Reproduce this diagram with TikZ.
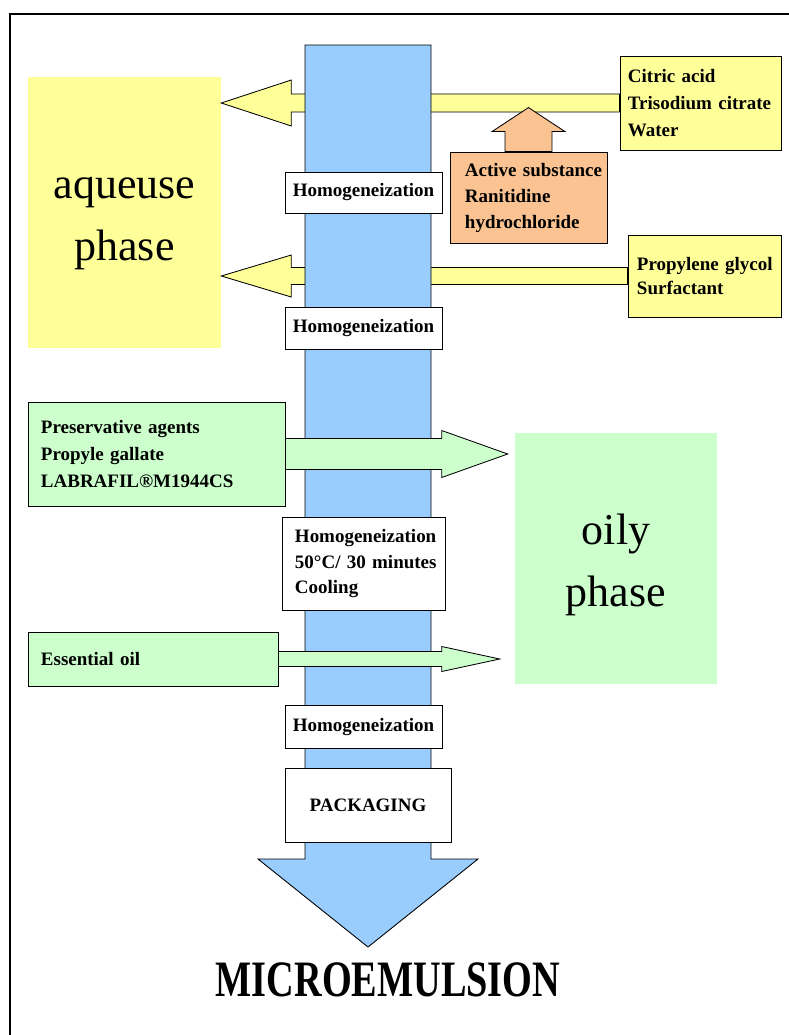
\documentclass[tikz,border=0pt]{standalone}
\usepackage{fontspec}
\setmainfont{Liberation Serif}
\usetikzlibrary{calc}
\hyphenpenalty=10000
\exhyphenpenalty=10000

\definecolor{aqyellow}{RGB}{255,255,153}
\definecolor{oilgreen}{RGB}{204,255,204}
\definecolor{colblue}{RGB}{153,204,255}
\definecolor{actorange}{RGB}{250,195,145}

% block arrows: style, tail, tip, shaft half width, head half width, head length
\newcommand{\hblockarrow}[6]{%
  \draw[#1] ($(#2)+(0,-#4)$) -- ($(#3)+(#6,-#4)$) -- ($(#3)+(#6,-#5)$) -- (#3)
    -- ($(#3)+(#6,#5)$) -- ($(#3)+(#6,#4)$) -- ($(#2)+(0,#4)$) -- cycle;
}
\newcommand{\vblockarrow}[6]{%
  \draw[#1] ($(#2)+(-#4,0)$) -- ($(#3)+(-#4,#6)$) -- ($(#3)+(-#5,#6)$) -- (#3)
    -- ($(#3)+(#5,#6)$) -- ($(#3)+(#4,#6)$) -- ($(#2)+(#4,0)$) -- cycle;
}
\newcommand{\phasestrut}{\rule{0pt}{31.4pt}}

\begin{document}
\begin{tikzpicture}[x=0.025cm, y=-0.025cm,
  phase/.style={inner sep=0, align=center, font=\fontsize{31.3}{44}\selectfont},
  listbox/.style={draw, line width=0.6pt, inner sep=0, align=left, font=\bfseries\fontsize{13.5}{19.2}\selectfont},
  stepbox/.style={draw, line width=0.6pt, fill=white, inner sep=0, minimum width=3.925cm, font=\bfseries\fontsize{13.5}{17.8}\selectfont},
  yarrow/.style={draw, line width=0.6pt, fill=aqyellow},
  garrow/.style={draw, line width=0.6pt, fill=oilgreen},
  oarrow/.style={draw, line width=0.6pt, fill=actorange},
  colarrow/.style={draw, line width=0.6pt, fill=colblue}]

  \useasboundingbox (0,0) rectangle (789,1035);

  % frame
  \draw[line width=1.4pt] (10,1035) -- (10,14) -- (789,14);

  % phases
  \node[phase, fill=aqyellow, minimum width=4.825cm, minimum height=6.775cm] (aq) at (124.5,212.5) {\phasestrut aqueuse\\phase};
  \node[phase, fill=oilgreen, minimum width=5.05cm, minimum height=6.275cm] (oil) at (616,558.5) {\phasestrut oily\\phase};

  % aqueous phase inputs
  \node[listbox, fill=aqyellow, minimum width=4.025cm, minimum height=2.35cm, text width=3.625cm] (cit)
    at (700.5,103) {Citric acid\\Trisodium~citrate\\Water};
  \node[listbox, fill=aqyellow, minimum width=3.825cm, minimum height=2.05cm, text width=3.375cm,
    font=\bfseries\fontsize{13.5}{16.4}\selectfont] (prop) at (704.5,276) {Propylene~glycol\\Surfactant};
  \coordinate (t1) at (aq.east |- cit.west);
  \coordinate (t2) at (aq.east |- prop.west);
  \hblockarrow{yarrow}{cit.west}{t1}{9}{23}{70}
  \hblockarrow{yarrow}{prop.west}{t2}{8.5}{21}{70}

  % main column
  \coordinate (ctop) at (368,45);
  \coordinate (ctip) at (368,947);
  \vblockarrow{colarrow}{ctop}{ctip}{63}{110}{-88}

  % active substance
  \node[listbox, fill=actorange, minimum width=3.925cm, minimum height=2.275cm, text width=3.175cm,
    font=\bfseries\fontsize{13.5}{18.5}\selectfont] (act) at (528.5,197.5)
    {Active~substance\\Ranitidine\\hydrochloride};
  \coordinate (t3) at ($(act.north)+(0,-44)$);
  \vblockarrow{oarrow}{act.north}{t3}{23.5}{36.5}{24}

  % oily phase inputs
  \node[listbox, fill=oilgreen, minimum width=6.425cm, minimum height=2.6cm, text width=5.775cm] (pres)
    at (156.5,454) {Preservative~agents\\Propyle~gallate\\LABRAFIL®M1944CS};
  \node[listbox, fill=oilgreen, minimum width=6.25cm, minimum height=1.35cm, text width=5.6cm] (ess)
    at (153,659) {Essential~oil};
  \coordinate (t4) at ($(oil.west |- pres.east)+(-7,0)$);
  \coordinate (t5) at ($(oil.west |- ess.east)+(-15,0)$);
  \hblockarrow{garrow}{pres.east}{t4}{15.5}{23.5}{-66}
  \hblockarrow{garrow}{ess.east}{t5}{7.5}{12.5}{-58}

  % steps
  \node[stepbox, minimum height=1.025cm] (h1) at (363.5,192.5) {Homogeneization};
  \node[stepbox, minimum height=1.05cm] (h2) at (363.5,328) {Homogeneization};
  \node[stepbox, minimum width=4.075cm, minimum height=2.325cm, align=left, text width=3.425cm] (h3)
    at (363.5,563.5) {Homogeneization\\50°C/~30~minutes\\Cooling};
  \node[stepbox, minimum height=1.075cm] (h4) at (363.5,726.5) {Homogeneization};
  \node[stepbox, minimum width=4.15cm, minimum height=1.85cm] (pack) at (368,805) {PACKAGING};

  \node[font=\bfseries\fontsize{36.3}{40}\selectfont] (micro) at (388,980)
    {\scalebox{0.75}[1]{MICROEMULSION}};
\end{tikzpicture}
\end{document}
